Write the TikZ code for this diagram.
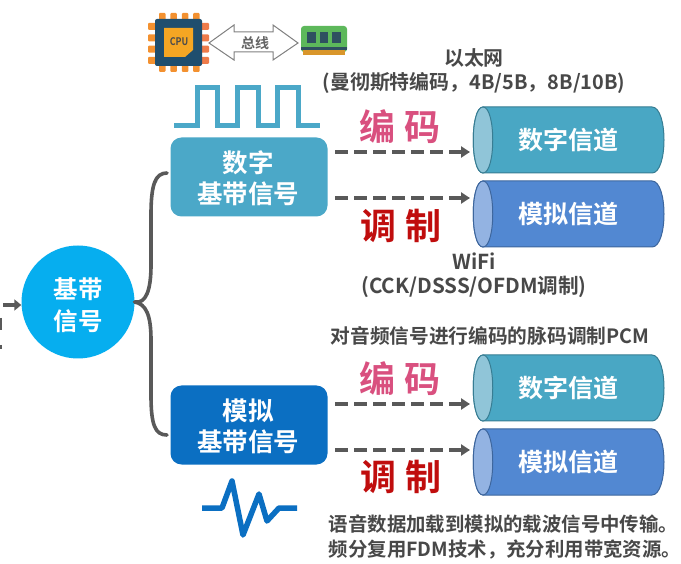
\documentclass[tikz,border=0pt]{standalone}
\usepackage{fontspec}
\setmainfont{Noto Sans CJK SC}[BoldFont={Noto Sans CJK SC Bold}]
\usetikzlibrary{arrows.meta,calc}
\definecolor{txtg}{HTML}{484848}
\definecolor{conn}{HTML}{595959}
\definecolor{teal1}{HTML}{4BA8C8}
\definecolor{blue1}{HTML}{0B6FC2}
\definecolor{cyanc}{HTML}{06AEEF}
\definecolor{chD}{HTML}{49A7C4}
\definecolor{chDe}{HTML}{90C5D8}
\definecolor{chA}{HTML}{5288D2}
\definecolor{chAe}{HTML}{93B3E2}
\definecolor{pinkc}{HTML}{D9507F}
\definecolor{redc}{HTML}{C00D0D}
\definecolor{cpubody}{HTML}{1F4E6E}
\definecolor{cpuchip}{HTML}{F5A623}
\definecolor{pinA}{HTML}{F39130}
\definecolor{pinB}{HTML}{EE7B4A}
\definecolor{ramg}{HTML}{5DB85B}
\definecolor{ramc}{HTML}{2F5060}
\definecolor{ramp}{HTML}{D9962B}
\tikzset{
  sig/.style={rounded corners=11pt,minimum width=157pt,minimum height=79pt,inner sep=0pt},
  sigt/.style={text=white,font=\bfseries\fontsize{25.5}{31}\selectfont,align=center,inner sep=0pt},
  lbl/.style={text=txtg,font=\bfseries\fontsize{19.7}{24.5}\selectfont,align=center,inner sep=0pt},
  big/.style={font=\bfseries\fontsize{36}{36}\selectfont,inner sep=0pt},
  dconn/.style={draw=conn,line width=3.5pt,dash pattern=on 13pt off 6pt,-{Triangle[length=9pt,width=11pt]}},
  branch/.style={draw=conn,line width=3.6pt,line cap=round},
  chantxt/.style={text=white,font=\bfseries\fontsize{25}{28}\selectfont,inner sep=0pt},
  wave/.style={line width=5.5pt,line join=round}
}
\newcommand{\chan}[5]{% name, y-center, fill, end fill, text
  \draw[draw=#3!75!black,line width=1pt,fill=#3] (483,#2-33) -- (652,#2-33) .. controls (668,#2-33) and (668,#2+33) .. (652,#2+33) -- (483,#2+33) .. controls (470,#2+33) and (470,#2-33) .. (483,#2-33) -- cycle;
  \draw[draw=#3!75!black,line width=1pt,fill=#4] (483,#2-33) .. controls (496,#2-33) and (496,#2+33) .. (483,#2+33) .. controls (470,#2+33) and (470,#2-33) .. (483,#2-33) -- cycle;
  \node[chantxt] (#1) at (568,#2) {#5};
}
\begin{document}
\begin{tikzpicture}[x=1pt,y=-1pt]
\useasboundingbox[fill=white] (0,0) rectangle (681,564);
% circle and boxes
\node[circle,fill=cyanc,minimum size=113pt,inner sep=0pt] (base) at (78,302) {};
\node[sigt,font=\bfseries\fontsize{24.5}{32}\selectfont] (baset) at (78,305) {基带\\信号};
\node[sig,fill=teal1] (dig) at (249,177) {};
\node[sigt] (digt) at (248,178) {数字\\基带信号};
\node[sig,fill=blue1] (ana) at (249,425) {};
\node[sigt] (anat) at (248,426) {模拟\\基带信号};
% branches
\coordinate (bd) at (167,173);
\coordinate (ba) at (167,435);
\draw[branch] (base.east) .. controls (146,304) and (151,290) .. (151,265) -- (151,215) .. controls (151,185) and (155,173) .. (bd);
\draw[branch] (base.east) .. controls (146,304) and (151,315) .. (151,340) -- (151,395) .. controls (151,425) and (155,435) .. (ba);
% lead-in arrow
\coordinate (inl) at (3,305);
\draw[conn,line width=3.5pt,-{Triangle[length=7pt,width=11pt]}] (inl) -- (base.west |- inl);
\draw[conn,line width=2pt] (0.5,318) -- (0.5,330) (0.5,345) -- (0.5,349);
% channels
\chan{c1}{140}{chD}{chDe}{数字信道}
\chan{c2}{214}{chA}{chAe}{模拟信道}
\chan{c3}{388}{chD}{chDe}{数字信道}
\chan{c4}{462}{chA}{chAe}{模拟信道}
% dashed connectors
\coordinate (a1) at (470,152);
\coordinate (a2) at (470,198);
\coordinate (a3) at (470,404);
\coordinate (a4) at (470,450);
\coordinate (s1) at (335,152);
\coordinate (s2) at (335,198);
\coordinate (s3) at (335,404);
\coordinate (s4) at (335,450);
\draw[dconn] (s1) -- (a1);
\draw[dconn] (s2) -- (a2);
\draw[dconn] (s3) -- (a3);
\draw[dconn] (s4) -- (a4);
% big words
\node[big,text=pinkc] (e1) at (400,127) {编\hspace{9pt}码};
\node[big,text=redc] (m1) at (401,226) {调\hspace{9pt}制};
\node[big,text=pinkc] (e2) at (400,379) {编\hspace{9pt}码};
\node[big,text=redc] (m2) at (401,477) {调\hspace{9pt}制};
% labels
\node[lbl,font=\bfseries\fontsize{19.9}{24.5}\selectfont] (t1) at (474,71) {以太网\\(曼彻斯特编码，4B/5B，8B/10B)};
\node[lbl,font=\bfseries\fontsize{20.6}{24.5}\selectfont] (t2) at (474,275) {WiFi\\(CCK/DSSS/OFDM调制)};
\node[lbl] (t3) at (490,336) {对音频信号进行编码的脉码调制PCM};
\node[lbl,align=left,font=\bfseries\fontsize{19.4}{25}\selectfont] (t4) at (505,537) {语音数据加载到模拟的载波信号中传输。\\频分复用FDM技术，充分利用带宽资源。};
% digital wave
\draw[wave,draw=teal1,line width=5pt,line join=miter] (174,126) -- (197,126) -- (197,88) -- (217,88) -- (217,126) -- (237,126) -- (237,88) -- (258,88) -- (258,126) -- (277,126) -- (277,88) -- (298,88) -- (298,126) -- (320,126);
% analog wave
\draw[wave,draw=blue1] (202,508) -- (222,508) -- (232,481) -- (243,535) -- (259,494) -- (267,521) -- (279,508) -- (297,508);
% CPU icon
\foreach \i in {0,1,2,3}{
  \fill[pinA,rounded corners=1pt] ({159+\i*11.4},13) rectangle ++(6.5,7);
  \fill[pinA,rounded corners=1pt] ({159+\i*11.4},65) rectangle ++(6.5,7);
  \fill[pinA,rounded corners=1pt] (148,{23+\i*11.3}) rectangle ++(8,7);
  \fill[pinB,rounded corners=1pt] (201,{23+\i*11.3}) rectangle ++(8,7);
}
\fill[rounded corners=2pt,fill=cpubody] (155,19) rectangle (202,66);
\fill[fill=cpuchip] (164,28) -- (193,28) -- (193,50) -- (185,57) -- (164,57) -- cycle;
\node[font=\bfseries\fontsize{10.5}{10}\selectfont,text=black!70,inner sep=0pt,xscale=0.85] (cpu) at (179,42) {CPU};
% bus arrow
\draw[draw=gray,line width=1pt,fill=white] (209,43) -- (234,25) -- (234,32) -- (273,32) -- (273,25) -- (298,43) -- (273,60) -- (273,52) -- (234,52) -- (234,60) -- cycle;
\node[inner sep=0pt,text=txtg!85,font=\bfseries\fontsize{14}{14}\selectfont] (bus) at (255,43) {总线};
% RAM icon
\fill[rounded corners=3pt,fill=ramg] (301,26) rectangle (347,52);
\fill[fill=ramc] (301,47) rectangle (347,50);
\fill[fill=ramp] (303,50) rectangle (345,55);
\foreach \i in {0,1,2}{\fill[fill=ramc] ({307+\i*12.7},32) rectangle ++(8.5,11);}
\end{tikzpicture}
\end{document}
